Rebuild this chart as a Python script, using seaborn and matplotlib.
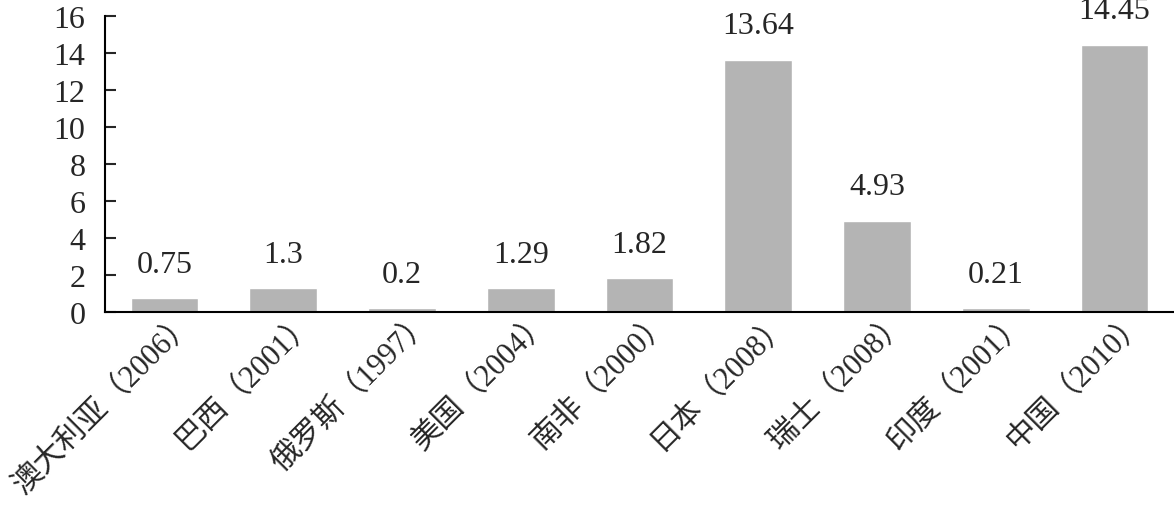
import matplotlib
matplotlib.use("Agg")
import matplotlib.pyplot as plt
from matplotlib.transforms import ScaledTranslation
import pandas as pd
import seaborn as sns

countries = ["澳大利亚", "巴西", "俄罗斯", "美国", "南非", "日本", "瑞士", "印度", "中国"]
years = ["2006", "2001", "1997", "2004", "2000", "2008", "2008", "2001", "2010"]
values = [0.75, 1.3, 0.2, 1.29, 1.82, 13.64, 4.93, 0.21, 14.45]
value_labels = ["0.75", "1.3", "0.2", "1.29", "1.82", "13.64", "4.93", "0.21", "14.45"]
y_ticks = [0, 2, 4, 6, 8, 10, 12, 14, 16]

sns.set_style("white")
plt.rcParams["font.family"] = ["Liberation Serif", "Noto Sans CJK SC", "DejaVu Sans"]

labels = [f"{c}（{y}）" for c, y in zip(countries, years)]
df = pd.DataFrame({"label": labels, "value": values})

fig = plt.figure(figsize=(11.74, 5.06), dpi=100)
ax = fig.add_axes([105 / 1174, (506 - 313) / 506, (1174 - 105) / 1174, (313 - 17) / 506])

sns.barplot(data=df, x="label", y="value", color="#b4b4b4", saturation=1,
            width=0.57, ax=ax)

# Value labels above each bar.
for i, (v, s) in enumerate(zip(values, value_labels)):
    ax.annotate(s, (i, v), xytext=(0, 14), textcoords="offset points",
                ha="center", va="bottom", fontsize=23, annotation_clip=False)

ax.set_ylim(0, 16)
ax.set_xlim(-0.5, len(values) - 0.5)
ax.set_yticks(y_ticks)
ax.set_yticklabels([str(t) for t in y_ticks], fontsize=23)
ax.set_xlabel("")
ax.set_ylabel("")
ax.tick_params(axis="y", direction="in", length=8, width=1.5, pad=14, left=True)
ax.tick_params(axis="x", length=0, pad=4)

# Rotated category labels, nudged so the closing bracket sits by the bar.
shift = ScaledTranslation(16 / 100, 12 / 100, fig.dpi_scale_trans)
for lbl in ax.get_xticklabels():
    lbl.set_rotation(45)
    lbl.set_ha("right")
    lbl.set_rotation_mode("anchor")
    lbl.set_fontsize(22)
    lbl.set_transform(lbl.get_transform() + shift)

for side in ["top", "right"]:
    ax.spines[side].set_visible(False)
for side in ["left", "bottom"]:
    ax.spines[side].set_linewidth(1.5)
    ax.spines[side].set_color("black")

fig.savefig("out.png", dpi=100)
